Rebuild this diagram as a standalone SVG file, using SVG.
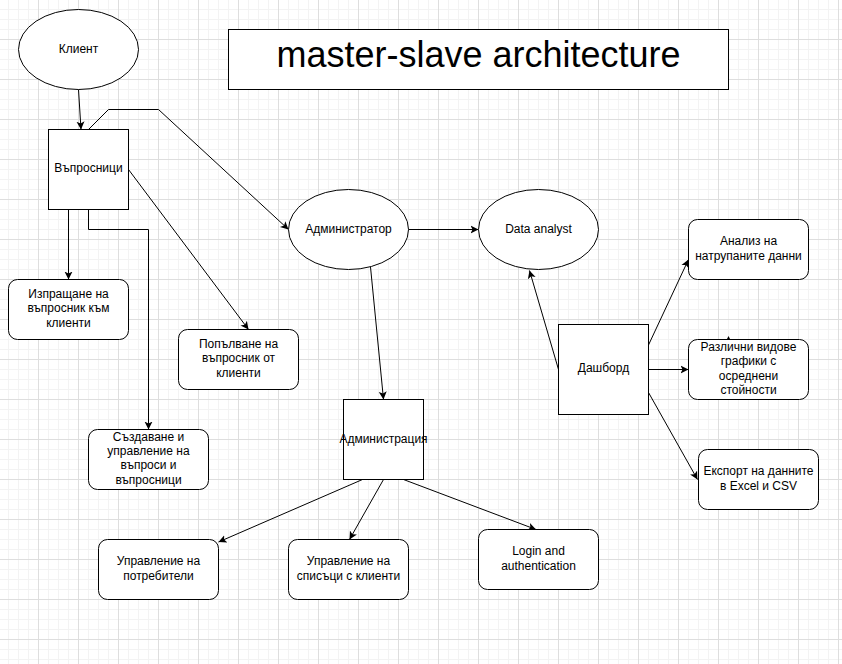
<svg xmlns="http://www.w3.org/2000/svg" width="842" height="664" viewBox="0 0 842 664">
<defs>
<pattern id="grid" x="-2" y="-1" width="40" height="40" patternUnits="userSpaceOnUse">
<rect x="0" y="0" width="40" height="40" fill="#ffffff"/>
<rect x="10" y="0" width="1" height="40" fill="#f3f3f3"/>
<rect x="20" y="0" width="1" height="40" fill="#f3f3f3"/>
<rect x="30" y="0" width="1" height="40" fill="#f3f3f3"/>
<rect x="0" y="10" width="40" height="1" fill="#f3f3f3"/>
<rect x="0" y="20" width="40" height="1" fill="#f3f3f3"/>
<rect x="0" y="30" width="40" height="1" fill="#f3f3f3"/>
<rect x="0" y="0" width="1" height="40" fill="#dedede"/>
<rect x="0" y="0" width="40" height="1" fill="#dedede"/>
</pattern>
<marker id="arr" markerUnits="userSpaceOnUse" markerWidth="10" markerHeight="10" refX="8" refY="4" orient="auto" viewBox="0 0 10 8">
<path d="M0,0 L8,4 L0,8 L2,4 Z" fill="#000"/>
</marker>
</defs>
<style>
.shape{fill:#ffffff;stroke:#000000;stroke-width:1}
.edge{fill:none;stroke:#000000;stroke-width:1;marker-end:url(#arr)}
.plain{fill:none;stroke:#000000;stroke-width:1}
text{font-family:"Liberation Sans",Arial,Helvetica,sans-serif;font-size:12px;fill:#000000;text-anchor:middle}
.title{font-size:36px}
</style>
<rect x="0" y="0" width="842" height="664" fill="url(#grid)"/>

<g id="connectors">
<path class="edge" d="M78.5,89.5 L81,129.5"/>
<path class="edge" d="M88.5,129.5 L108.5,109.5 L158.5,109.5 L288.5,229.5"/>
<path class="edge" d="M68.5,209.5 L68.5,279.5"/>
<path class="edge" d="M88.5,209.5 L88.5,229.5 L148.5,229.5 L148.5,429.5"/>
<path class="edge" d="M128.5,169.5 L248.5,329.5"/>
<path class="edge" d="M408.5,229.5 L478.5,229.5"/>
<path class="edge" d="M370.5,267 L383.5,399.5"/>
<path class="edge" d="M558.5,369.5 L529.5,270.5"/>
<path class="edge" d="M648.5,345 L688.5,259.5"/>
<path class="edge" d="M648.5,369.5 L688.5,369.5"/>
<path class="edge" d="M648.5,392.5 L697.5,479.5"/>
<path class="edge" d="M362.5,479.5 L218.5,542"/>
<path class="edge" d="M383.5,479.5 L349.5,539.5"/>
<path class="edge" d="M403.5,479.5 L536,529.5"/>
<path d="M724.5,344 L728.5,336 L732.5,344 L728.5,342 Z" fill="#000"/>
</g>

<g id="title">
<rect class="shape" x="228.5" y="29.5" width="500" height="60"/>
<text class="title" x="478.5" y="67">master-slave architecture</text>
</g>

<g id="klient">
<ellipse class="shape" cx="78.5" cy="49.5" rx="60" ry="40"/>
<text x="78.5" y="52.5">Клиент</text>
</g>

<g id="vaprosnici">
<rect class="shape" x="48.5" y="129.5" width="80" height="80"/>
<text x="88.5" y="171.5">Въпросници</text>
</g>

<g id="izprashtane">
<rect class="shape" x="8.5" y="279.5" width="120" height="60" rx="9" ry="9"/>
<text x="68.5" y="298">Изпращане на</text>
<text x="68.5" y="312.4">въпросник към</text>
<text x="68.5" y="326.8">клиенти</text>
</g>

<g id="popalvane">
<rect class="shape" x="178.5" y="329.5" width="120" height="60" rx="9" ry="9"/>
<text x="238.5" y="348">Попълване на</text>
<text x="238.5" y="362.4">въпросник от</text>
<text x="238.5" y="376.8">клиенти</text>
</g>

<g id="sazdavane">
<rect class="shape" x="88.5" y="429.5" width="120" height="60" rx="9" ry="9"/>
<text x="148.5" y="440.5">Създаване и</text>
<text x="148.5" y="454.9">управление на</text>
<text x="148.5" y="469.3">въпроси и</text>
<text x="148.5" y="483.7">въпросници</text>
</g>

<g id="administrator">
<ellipse class="shape" cx="348.5" cy="229.5" rx="60" ry="40"/>
<text x="348.5" y="232.5">Администратор</text>
</g>

<g id="data-analyst">
<ellipse class="shape" cx="538.5" cy="229.5" rx="60" ry="40"/>
<text x="538.5" y="232.5">Data analyst</text>
</g>

<g id="administracia">
<rect class="shape" x="343.5" y="399.5" width="80" height="80"/>
<text x="383.5" y="442.5">Администрация</text>
</g>

<g id="upravlenie-potrebiteli">
<rect class="shape" x="98.5" y="539.5" width="120" height="60" rx="9" ry="9"/>
<text x="158.5" y="565.3">Управление на</text>
<text x="158.5" y="579.7">потребители</text>
</g>

<g id="upravlenie-spisaci">
<rect class="shape" x="288.5" y="539.5" width="120" height="60" rx="9" ry="9"/>
<text x="348.5" y="565.3">Управление на</text>
<text x="348.5" y="579.7">списъци с клиенти</text>
</g>

<g id="login">
<rect class="shape" x="478.5" y="529.5" width="120" height="60" rx="9" ry="9"/>
<text x="538.5" y="555.3">Login and</text>
<text x="538.5" y="569.7">authentication</text>
</g>

<g id="dashbord">
<rect class="shape" x="558.5" y="324.5" width="90" height="90"/>
<text x="603.5" y="372">Дашборд</text>
</g>

<g id="analiz">
<rect class="shape" x="688.5" y="219.5" width="120" height="60" rx="9" ry="9"/>
<text x="748.5" y="245.3">Анализ на</text>
<text x="748.5" y="259.7">натрупаните данни</text>
</g>

<g id="grafiki">
<rect class="shape" x="688.5" y="339.5" width="120" height="60" rx="9" ry="9"/>
<text x="748.5" y="350.9">Различни видове</text>
<text x="748.5" y="365.3">графики с</text>
<text x="748.5" y="379.7">осреднени</text>
<text x="748.5" y="394.1">стойности</text>
</g>

<g id="eksport">
<rect class="shape" x="698.5" y="449.5" width="120" height="60" rx="9" ry="9"/>
<text x="758.5" y="475.3">Експорт на данните</text>
<text x="758.5" y="489.7">в Excel и CSV</text>
</g>
</svg>
